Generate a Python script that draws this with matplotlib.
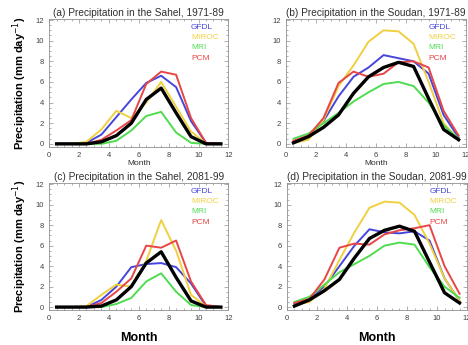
import matplotlib
matplotlib.use("Agg")
from matplotlib import pyplot as plt
from matplotlib.ticker import MultipleLocator

plt.rcParams['font.family'] = ['Liberation Sans', 'DejaVu Sans']

### months (mid-month positions)
months = [0.5, 1.5, 2.5, 3.5, 4.5, 5.5, 6.5, 7.5, 8.5, 9.5, 10.5, 11.5]

models = ["GFDL", "MIROC", "MRI", "PCM"]
colors = {"GFDL": "#4646dc", "MIROC": "#f0d040", "MRI": "#50dc50", "PCM": "#e84646"}

titles = ["(a) Precipitation in the Sahel, 1971-89",
          "(b) Precipitation in the Soudan, 1971-89",
          "(c) Precipitation in the Sahel, 2081-99",
          "(d) Precipitation in the Soudan, 2081-99"]

### panel (a) Sahel 1971-89
sahel_20c = {
    "GFDL":  [0, 0, 0.1, 0.9, 2.6, 4.3, 5.9, 6.6, 5.5, 2.2, 0.1, 0],
    "MIROC": [0, 0, 0.2, 1.4, 3.2, 2.5, 4.0, 6.0, 3.6, 1.2, 0.05, 0],
    "MRI":   [0, 0, 0, 0, 0.3, 1.3, 2.7, 3.1, 1.1, 0.1, 0, 0],
    "PCM":   [0, 0, 0, 0.4, 1.3, 2.3, 5.8, 7.0, 6.7, 2.5, 0.1, 0],
}
sahel_20c_obs = [0, 0, 0, 0.2, 0.8, 2.0, 4.3, 5.4, 3.0, 0.7, 0, 0]

### panel (b) Soudan 1971-89
soudan_20c = {
    "GFDL":  [0.2, 0.8, 2.2, 4.6, 6.5, 7.4, 8.6, 8.3, 8.0, 6.8, 2.8, 0.6],
    "MIROC": [0.1, 0.4, 2.3, 5.6, 7.6, 9.9, 11.0, 10.9, 9.7, 6.0, 2.0, 0.4],
    "MRI":   [0.5, 1.0, 2.0, 3.0, 4.1, 5.0, 5.8, 6.0, 5.6, 4.0, 1.8, 0.5],
    "PCM":   [0.3, 0.8, 2.5, 5.9, 7.0, 6.5, 6.8, 7.9, 8.0, 7.4, 3.2, 0.8],
}
soudan_20c_obs = [0.1, 0.7, 1.6, 2.8, 4.9, 6.5, 7.4, 7.9, 7.5, 4.4, 1.4, 0.4]

### panel (c) Sahel 2081-99
sahel_21c = {
    "GFDL":  [0, 0, 0, 0.7, 2.0, 3.9, 4.2, 4.3, 3.9, 2.3, 0.1, 0],
    "MIROC": [0, 0, 0.1, 1.2, 2.2, 2.0, 4.5, 8.5, 5.5, 1.2, 0.05, 0],
    "MRI":   [0, 0, 0, 0, 0.3, 0.9, 2.5, 3.3, 1.5, 0.2, 0, 0],
    "PCM":   [0, 0, 0, 0.4, 1.5, 2.8, 6.0, 5.8, 6.5, 2.5, 0.2, 0],
}
sahel_21c_obs = [0, 0, 0, 0.1, 0.7, 2.0, 4.3, 5.4, 2.9, 0.6, 0, 0]

### panel (d) Soudan 2081-99
soudan_21c = {
    "GFDL":  [0.3, 0.7, 2.0, 4.0, 6.0, 7.6, 7.3, 7.2, 7.4, 6.5, 2.8, 0.6],
    "MIROC": [0.2, 0.5, 1.8, 4.6, 7.3, 9.7, 10.3, 10.2, 9.0, 6.2, 2.8, 0.6],
    "MRI":   [0.5, 1.0, 2.2, 3.4, 4.2, 5.0, 6.0, 6.3, 6.1, 3.9, 2.0, 0.9],
    "PCM":   [0.4, 0.8, 2.7, 5.8, 6.2, 6.1, 7.1, 7.5, 7.7, 8.0, 4.0, 1.3],
}
soudan_21c_obs = [0.1, 0.7, 1.6, 2.7, 4.8, 6.7, 7.5, 7.9, 7.4, 4.4, 1.4, 0.4]

panels = [(sahel_20c, sahel_20c_obs), (soudan_20c, soudan_20c_obs),
          (sahel_21c, sahel_21c_obs), (soudan_21c, soudan_21c_obs)]

### axes boxes in figure fractions [left, bottom, width, height]
boxes = [[0.105, 0.574, 0.383, 0.371],
         [0.611, 0.574, 0.385, 0.371],
         [0.105, 0.101, 0.383, 0.368],
         [0.613, 0.101, 0.385, 0.368]]

fig = plt.figure(figsize=(4.68, 3.45), dpi=100)
frame = "#909090"

for i, (data, obs) in enumerate(panels):
    ax = fig.add_axes(boxes[i])
    for m in models:
        ax.plot(months, data[m], color=colors[m], lw=1.4)
    ax.plot(months, obs, color="black", lw=2.4)

    ax.set_xlim(0, 12)
    ax.set_ylim(-0.3, 12.1)
    ax.xaxis.set_major_locator(MultipleLocator(2))
    ax.yaxis.set_major_locator(MultipleLocator(2))
    ax.xaxis.set_minor_locator(MultipleLocator(0.5))
    ax.yaxis.set_minor_locator(MultipleLocator(0.5))
    ax.tick_params(which="both", direction="in", top=True, right=True,
                   colors=frame, labelcolor="#404040", labelsize=5.5, width=0.5)
    ax.tick_params(which="major", length=3)
    ax.tick_params(which="minor", length=1.5)
    for s in ax.spines.values():
        s.set_color(frame)
        s.set_linewidth(0.6)

    ax.set_title(titles[i], fontsize=7.3, color="#303030", pad=2)

    ### text-only legend
    for k, m in enumerate(models):
        ax.text(9.5, 11.3 - k, m, color=colors[m], fontsize=6, va="center")

    if i < 2:
        ax.set_xlabel("Month", fontsize=6, color="#303030", labelpad=1)
    else:
        ax.set_xlabel("Month", fontsize=9, fontweight="bold", labelpad=7)
    if i % 2 == 0:
        ax.set_ylabel("Precipitation (mm day$^{-1}$)", fontsize=8,
                      fontweight="bold", labelpad=5)

plt.savefig("out.png", dpi=100)
